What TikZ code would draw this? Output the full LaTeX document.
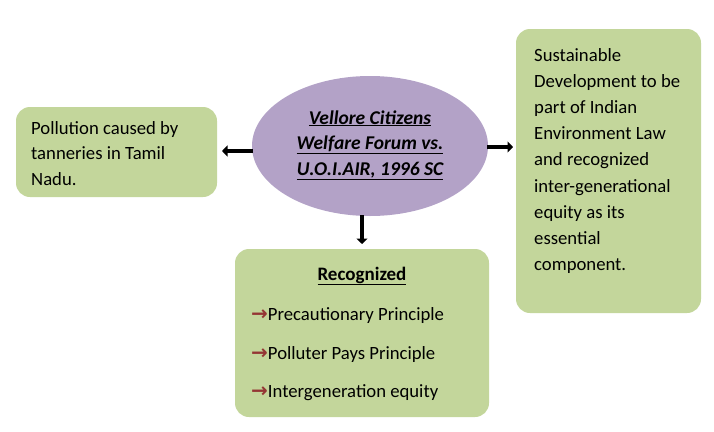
\documentclass[tikz,border=0pt]{standalone}
\usepackage{fontspec}
\setmainfont{Carlito}
\newfontfamily\arrowfont{DejaVu Sans}
\usetikzlibrary{arrows.meta,shapes.geometric}
\definecolor{boxgreen}{HTML}{C3D69B}
\definecolor{ovalpurple}{HTML}{B3A2C7}
\definecolor{listred}{HTML}{943634}
\tikzset{
  box/.style={fill=boxgreen, draw=none, rounded corners=14pt, inner sep=0pt},
  txt/.style={anchor=north west, align=left, inner sep=0pt, font=\fontsize{18.7}{25.5}\selectfont},
  itemtxt/.style={inner sep=0pt, anchor=west, font=\fontsize{18.7}{20}\selectfont},
  link/.style={line width=4.5pt, -{Triangle[length=5.5pt,width=11pt]}}
}
\newcommand{\redarrow}{{\arrowfont\fontsize{20}{20}\selectfont\bfseries\color{listred}→}}
\begin{document}
\begin{tikzpicture}[x=1pt,y=-1pt]
\useasboundingbox (0,0) rectangle (714,431);
% boxes
\node[box, minimum width=201pt, minimum height=90pt] (left) at (116.5,152) {};
\node[box, minimum width=185pt, minimum height=284pt] (right) at (608.5,171) {};
\node[box, minimum width=254pt, minimum height=168pt] (bottom) at (362,333) {};
\node[ellipse, fill=ovalpurple, minimum width=236pt, minimum height=140pt, inner sep=0pt] (case) at (370,146) {};
\node[inner sep=0pt, align=center, font=\fontsize{19.5}{25.5}\selectfont\bfseries\itshape] (casetext) at (370,145)
  {\underline{Vellore Citizens}\\\underline{Welfare Forum vs.}\\\underline{U.O.I.AIR, 1996 SC}};
% texts
\node[txt] (lefttext) at (31,121) {Pollution caused by\\tanneries in Tamil\\Nadu.};
\node[txt, font=\fontsize{18.7}{26.2}\selectfont] (righttext) at (534,48) {Sustainable\\Development to be\\part of Indian\\Environment Law\\and recognized\\inter-generational\\equity as its\\essential\\component.};
\node[inner sep=0pt, font=\fontsize{19}{20}\selectfont\bfseries] (rec) at (362,276) {\underline{Recognized}};
\node[itemtxt] (i1) at (251,316) {\redarrow Precautionary Principle};
\node[itemtxt] (i2) at (251,355) {\redarrow Polluter Pays Principle};
\node[itemtxt] (i3) at (251,393) {\redarrow Intergeneration equity};
% connectors
\coordinate (lstart) at (253,151);
\coordinate (lend) at (222,151);
\coordinate (rstart) at (487,147);
\coordinate (rend) at (513,147);
\coordinate (dstart) at (362,215);
\coordinate (dend) at (362,244);
\draw[link] (lstart) -- (lend);
\draw[link] (rstart) -- (rend);
\draw[link] (dstart) -- (dend);
\end{tikzpicture}
\end{document}
